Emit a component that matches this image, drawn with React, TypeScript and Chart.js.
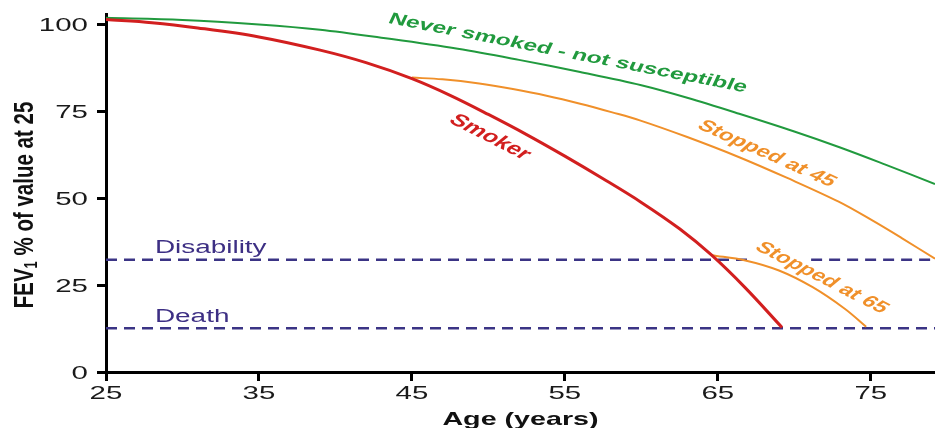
import React, { useEffect, useRef } from "react";
import { Chart, registerables } from "chart.js";

Chart.register(...registerables);

// ---------- data ----------
const ageMin = 25;
const ageMax = 79.2;
const valueMin = 0;
const valueMax = 103;

const xTickValues = [25, 35, 45, 55, 65, 75];
const xTickLabels = ["25", "35", "45", "55", "65", "75"];
const yTickValues = [0, 25, 50, 75, 100];
const yTickLabels = ["0", "25", "50", "75", "100"];

const neverAges = [25, 30, 35, 39, 43, 48, 52, 56, 60, 63, 66.4, 70, 73, 76, 79.2];
const neverValues = [101.9, 101.3, 100.0, 98.5, 96.2, 93.0, 89.8, 86.3, 82.5, 78.9, 74.3, 69.2, 64.6, 59.6, 54.1];

const smokerAges = [25, 28, 31, 35, 39, 42, 45, 47.5, 50, 52.5, 55, 57.5, 60, 62.5, 64.6, 66.8, 69.2];
const smokerValues = [101.4, 100.5, 99.0, 96.4, 92.6, 89.0, 84.4, 79.6, 74.1, 68.3, 62.1, 55.6, 48.8, 41.2, 33.6, 24.2, 12.8];

const stop45Ages = [45, 47, 49.4, 51.6, 53.8, 56, 58.1, 59.9, 63, 66.4, 69.5, 72.9, 75.1, 77, 79.2];
const stop45Values = [84.7, 84.2, 83.0, 81.4, 79.5, 77.2, 74.7, 72.4, 67.6, 61.8, 55.9, 49.0, 43.6, 38.6, 32.6];

const stop65Ages = [64.6, 66.8, 69, 71.2, 73.3, 74.7];
const stop65Values = [33.6, 32.1, 29.2, 24.4, 18.2, 13.0];

const disabilityLevel = 32.3;
const deathLevel = 12.6;
// ages where the disability line is interrupted by the "Stopped at 65" label
const disabilityAges = [25, 67.2, 69, 71.1, 79.2];
const disabilityValues = [disabilityLevel, disabilityLevel, null, disabilityLevel, disabilityLevel];
const deathAges = [25, 79.2];
const deathValues = [deathLevel, deathLevel];

const xTitle = "Age (years)";
const yTitleMain = "FEV";
const yTitleSub = "1";
const yTitleRest = " % of value at 25";

// ---------- styles ----------
const FONT = '"Liberation Sans", Arial, Helvetica, sans-serif';
const SX = 1.55;
const GREEN = "#219a3e";
const RED = "#d21f1f";
const ORANGE = "#f0902a";
const PURPLE = "#3b3485";
const PURPLE_TEXT = "#3d2f84";

const curveLabels = [
  { text: "Never smoked - not susceptible", age: 55.2, value: 91.7, angle: 11, color: GREEN, size: 16 },
  { text: "Smoker", age: 50.1, value: 67.6, angle: 27, color: RED, size: 17 },
  { text: "Stopped at 45", age: 68.2, value: 62.8, angle: 24, color: ORANGE, size: 16 },
  { text: "Stopped at 65", age: 71.8, value: 27.1, angle: 27, color: ORANGE, size: 16 },
];
const levelLabels = [
  { text: "Disability", age: 28.2, value: 34.1 },
  { text: "Death", age: 28.2, value: 14.3 },
];

function pts(xs: number[], ys: (number | null)[]) {
  return xs.map((x, i) => ({ x, y: ys[i] }));
}

function drawText(
  ctx: CanvasRenderingContext2D,
  text: string,
  x: number,
  y: number,
  o: { font: string; color: string; align?: CanvasTextAlign; baseline?: CanvasTextBaseline; angle?: number; sx?: number }
) {
  const sx = o.sx ?? SX;
  const a = ((o.angle ?? 0) * Math.PI) / 180;
  ctx.save();
  ctx.translate(x, y);
  ctx.scale(sx, 1);
  ctx.rotate(Math.atan(Math.tan(a) * sx));
  ctx.font = o.font;
  ctx.fillStyle = o.color;
  ctx.textAlign = o.align ?? "left";
  ctx.textBaseline = o.baseline ?? "alphabetic";
  ctx.fillText(text, 0, 0);
  ctx.restore();
}

const textPlugin = {
  id: "textPlugin",
  afterDatasetsDraw(chart: any) {
    const { ctx, chartArea } = chart;
    const xs = chart.scales.x;
    const ys = chart.scales.y;

    // tick labels
    yTickValues.forEach((v, i) => {
      drawText(ctx, yTickLabels[i], chartArea.left - 18, ys.getPixelForValue(v) + 7, {
        font: `19px ${FONT}`,
        color: "#1a1a1a",
        align: "right",
      });
    });
    xTickValues.forEach((v, i) => {
      drawText(ctx, xTickLabels[i], xs.getPixelForValue(v), chartArea.bottom + 27, {
        font: `19px ${FONT}`,
        color: "#1a1a1a",
        align: "center",
      });
    });

    // x title
    drawText(ctx, xTitle, (chartArea.left + chartArea.right) / 2, chartArea.bottom + 53, {
      font: `bold 18.5px ${FONT}`,
      color: "#111",
      align: "center",
    });

    // y title with subscript
    ctx.save();
    ctx.translate(33, (chartArea.top + chartArea.bottom) / 2 + 12);
    ctx.scale(1.35, 1);
    ctx.rotate(-Math.PI / 2);
    ctx.fillStyle = "#111";
    ctx.textBaseline = "alphabetic";
    ctx.textAlign = "left";
    const mainFont = `bold 20.5px ${FONT}`;
    const subFont = `bold 13px ${FONT}`;
    ctx.font = mainFont;
    const w1 = ctx.measureText(yTitleMain).width;
    const w3 = ctx.measureText(yTitleRest).width;
    ctx.font = subFont;
    const w2 = ctx.measureText(yTitleSub).width;
    let cx = -(w1 + w2 + w3) / 2;
    ctx.font = mainFont;
    ctx.fillText(yTitleMain, cx, 0);
    cx += w1;
    ctx.font = subFont;
    ctx.fillText(yTitleSub, cx, 3);
    cx += w2;
    ctx.font = mainFont;
    ctx.fillText(yTitleRest, cx, 0);
    ctx.restore();

    // curve labels
    curveLabels.forEach((l) => {
      drawText(ctx, l.text, xs.getPixelForValue(l.age), ys.getPixelForValue(l.value), {
        font: `bold ${l.size}px ${FONT}`,
        color: l.color,
        align: "center",
        baseline: "middle",
        angle: l.angle,
      });
    });

    // level labels
    levelLabels.forEach((l) => {
      drawText(ctx, l.text, xs.getPixelForValue(l.age), ys.getPixelForValue(l.value), {
        font: `18px ${FONT}`,
        color: PURPLE_TEXT,
        align: "left",
      });
    });
  },
};

export default function App() {
  const canvasRef = useRef<HTMLCanvasElement | null>(null);

  useEffect(() => {
    if (!canvasRef.current) return;
    const axisCommon = {
      type: "linear" as const,
      ticks: { display: false },
      grid: { drawOnChartArea: false, drawTicks: true, tickLength: 9, color: "#000", lineWidth: 3 },
      border: { display: true, color: "#000", width: 3 },
    };
    const chart = new Chart(canvasRef.current, {
      type: "line",
      data: {
        datasets: [
          { label: "Smoker", data: pts(smokerAges, smokerValues), borderColor: RED, borderWidth: 3, tension: 0.35 },
          { label: "Stopped at 65", data: pts(stop65Ages, stop65Values), borderColor: ORANGE, borderWidth: 2, tension: 0.35 },
          { label: "Stopped at 45", data: pts(stop45Ages, stop45Values), borderColor: ORANGE, borderWidth: 2, tension: 0.35 },
          { label: "Never smoked", data: pts(neverAges, neverValues), borderColor: GREEN, borderWidth: 2, tension: 0.35 },
          { label: "Disability", data: pts(disabilityAges, disabilityValues), borderColor: PURPLE, borderWidth: 2.5, borderDash: [11, 7], spanGaps: false, tension: 0 },
          { label: "Death", data: pts(deathAges, deathValues), borderColor: PURPLE, borderWidth: 2.5, borderDash: [11, 7], tension: 0 },
        ] as any,
      },
      options: {
        animation: false,
        responsive: false,
        maintainAspectRatio: false,
        layout: { padding: { top: 14, right: 0, left: 0, bottom: 0 }, autoPadding: false },
        plugins: { legend: { display: false }, tooltip: { enabled: false }, title: { display: false } },
        elements: { point: { radius: 0, hoverRadius: 0 }, line: { fill: false } },
        scales: {
          x: {
            ...axisCommon,
            min: ageMin,
            max: ageMax,
            afterBuildTicks: (s: any) => {
              s.ticks = xTickValues.map((v) => ({ value: v }));
            },
            afterFit: (s: any) => {
              s.height = 56;
            },
          },
          y: {
            ...axisCommon,
            min: valueMin,
            max: valueMax,
            afterBuildTicks: (s: any) => {
              s.ticks = yTickValues.map((v) => ({ value: v }));
            },
            afterFit: (s: any) => {
              s.width = 106;
            },
          },
        } as any,
      },
      plugins: [textPlugin],
    });
    return () => chart.destroy();
  }, []);

  return (
    <div style={{ position: "absolute", left: 0, top: 0, width: 935, height: 428, background: "#fff" }}>
      <canvas ref={canvasRef} width={935} height={428} style={{ display: "block", width: 935, height: 428 }} />
    </div>
  );
}
